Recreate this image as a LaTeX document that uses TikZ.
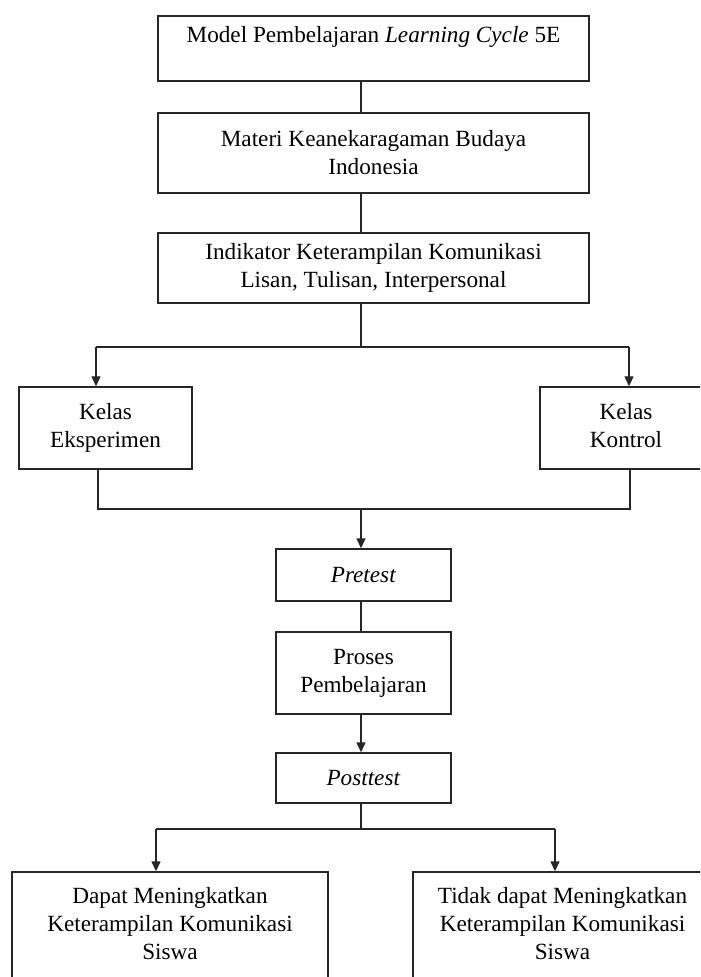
\documentclass[tikz,border=0pt]{standalone}
\usepackage{fontspec}
\setmainfont{Liberation Serif}
\usepackage{xcolor}
\usepackage{tikz}
\usetikzlibrary{arrows.meta}
\definecolor{lineColor}{HTML}{262626}

\begin{document}
\begin{tikzpicture}[x=0.5pt, y=-0.5pt,
    box/.style={draw=lineColor, line width=0.7pt, align=center, inner sep=0pt, font=\fontsize{11.6}{14}\selectfont},
    link/.style={draw=lineColor, line width=0.7pt},
    arr/.style={link, -{Triangle[length=5pt,width=4.5pt]}}]
    \clip (0,0) rectangle (700,977);
    \node[box, minimum width=215.5pt, minimum height=32.5pt] (model) at (373.5,48.5)
        {Model Pembelajaran \textit{Learning Cycle} 5E\\ \mbox{}};
    \node[box, minimum width=215.5pt, minimum height=40pt] (materi) at (373.5,153)
        {Materi Keanekaragaman Budaya\\ Indonesia};
    \node[box, minimum width=86.5pt, minimum height=41pt] (eksp) at (105.5,428) {Kelas\\ Eksperimen};
    \node[box, minimum width=215.5pt, minimum height=35pt] (indikator) at (373.5,268)
        {Indikator Keterampilan Komunikasi\\ Lisan, Tulisan, Interpersonal};
    \node[box, minimum width=86pt, minimum height=41pt] (kontrol) at (626,428) {Kelas\\ Kontrol\vphantom{p}};
    \node[box, minimum width=87.5pt, minimum height=26pt] (pretest) at (363.5,575) {\textit{Pretest}};
    \node[box, minimum width=87.5pt, minimum height=41pt] (proses) at (363.5,673) {Proses\\ Pembelajaran};
    \node[box, minimum width=87.5pt, minimum height=25pt] (posttest) at (363.5,778) {\textit{Posttest}};
    \node[box, minimum width=158pt, minimum height=65pt] (dapat) at (170,937)
        {Dapat Meningkatkan\\ Keterampilan Komunikasi\\ Siswa\\ \mbox{}};
    \node[box, minimum width=149.5pt, minimum height=65pt] (tidak) at (562.5,937)
        {Tidak dapat Meningkatkan\\ Keterampilan Komunikasi\\ Siswa\\ \mbox{}};
    \draw[lineColor, line width=0.8pt] (materi.south west) -- (materi.south east);
    \coordinate (splitL) at (96,347);
    \coordinate (splitC) at (361,347);
    \coordinate (splitR) at (629,347);
    \coordinate (joinL) at (98,509);
    \coordinate (joinC) at (361,509);
    \coordinate (joinR) at (630,509);
    \coordinate (split2L) at (156,829);
    \coordinate (split2C) at (361,829);
    \coordinate (split2R) at (555,829);
    \draw[link] (model.south -| splitC) -- (materi.north -| splitC);
    \draw[link] (materi.south -| splitC) -- (indikator.north -| splitC);
    \draw[link] (indikator.south -| splitC) -- (splitC);
    \draw[link] (splitL) -- (splitR);
    \draw[arr] (splitL) -- (eksp.north -| splitL);
    \draw[arr] (splitR) -- (kontrol.north -| splitR);
    \draw[link] (eksp.south -| joinL) -- (joinL) -- (joinR) -- (kontrol.south -| joinR);
    \draw[arr] (joinC) -- (pretest.north -| joinC);
    \draw[link] (pretest.south -| joinC) -- (proses.north -| joinC);
    \draw[arr] (proses.south -| joinC) -- (posttest.north -| joinC);
    \draw[link] (posttest.south -| split2C) -- (split2C);
    \draw[link] (split2L) -- (split2R);
    \draw[arr] (split2L) -- (dapat.north -| split2L);
    \draw[arr] (split2R) -- (tidak.north -| split2R);
\end{tikzpicture}
\end{document}
